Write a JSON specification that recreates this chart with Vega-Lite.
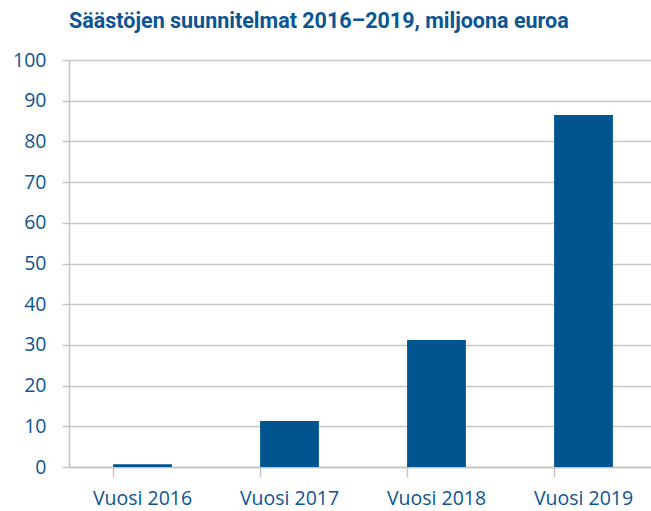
{
  "$schema": "https://vega.github.io/schema/vega-lite/v6.json",
  "autosize": "none",
  "width": 588,
  "height": 407,
  "padding": {"left": 69, "top": 60, "right": 0, "bottom": 44},
  "background": "white",
  "title": {
    "text": "Säästöjen suunnitelmat 2016–2019, miljoona euroa",
    "anchor": "start",
    "frame": "group",
    "font": "Roboto, sans-serif",
    "fontSize": 21.5,
    "fontWeight": "bold",
    "color": "#0b5596",
    "offset": 18
  },
  "data": {
    "values": [
      {"vuosi": "Vuosi 2016", "arvo": 0.7},
      {"vuosi": "Vuosi 2017", "arvo": 11.3},
      {"vuosi": "Vuosi 2018", "arvo": 31.2},
      {"vuosi": "Vuosi 2019", "arvo": 86.5}
    ]
  },
  "mark": {"type": "bar", "color": "#00558f"},
  "encoding": {
    "x": {
      "field": "vuosi",
      "type": "nominal",
      "sort": null,
      "title": null,
      "scale": {"paddingInner": 0.6, "paddingOuter": 0.3},
      "axis": {
        "labelAngle": 0,
        "labelFont": "Open Sans",
        "labelFontSize": 19.5,
        "labelColor": "#0b5596",
        "labelPadding": 12,
        "tickSize": 10,
        "tickColor": "#c4c4c4",
        "tickWidth": 1.5,
        "bandPosition": 0,
        "domainColor": "#c4c4c4",
        "domainWidth": 1.5,
        "grid": false
      }
    },
    "y": {
      "field": "arvo",
      "type": "quantitative",
      "title": null,
      "scale": {"domain": [0, 100], "nice": false},
      "axis": {
        "values": [0, 10, 20, 30, 40, 50, 60, 70, 80, 90, 100],
        "labelFont": "Open Sans",
        "labelFontSize": 19.5,
        "labelColor": "#0b5596",
        "labelPadding": 16,
        "tickSize": 7,
        "tickColor": "#c4c4c4",
        "tickWidth": 1.5,
        "domainColor": "#c4c4c4",
        "domainWidth": 1.5,
        "gridColor": "#c8c8c8",
        "gridWidth": 1.5
      }
    }
  },
  "config": {"view": {"stroke": null}}
}
